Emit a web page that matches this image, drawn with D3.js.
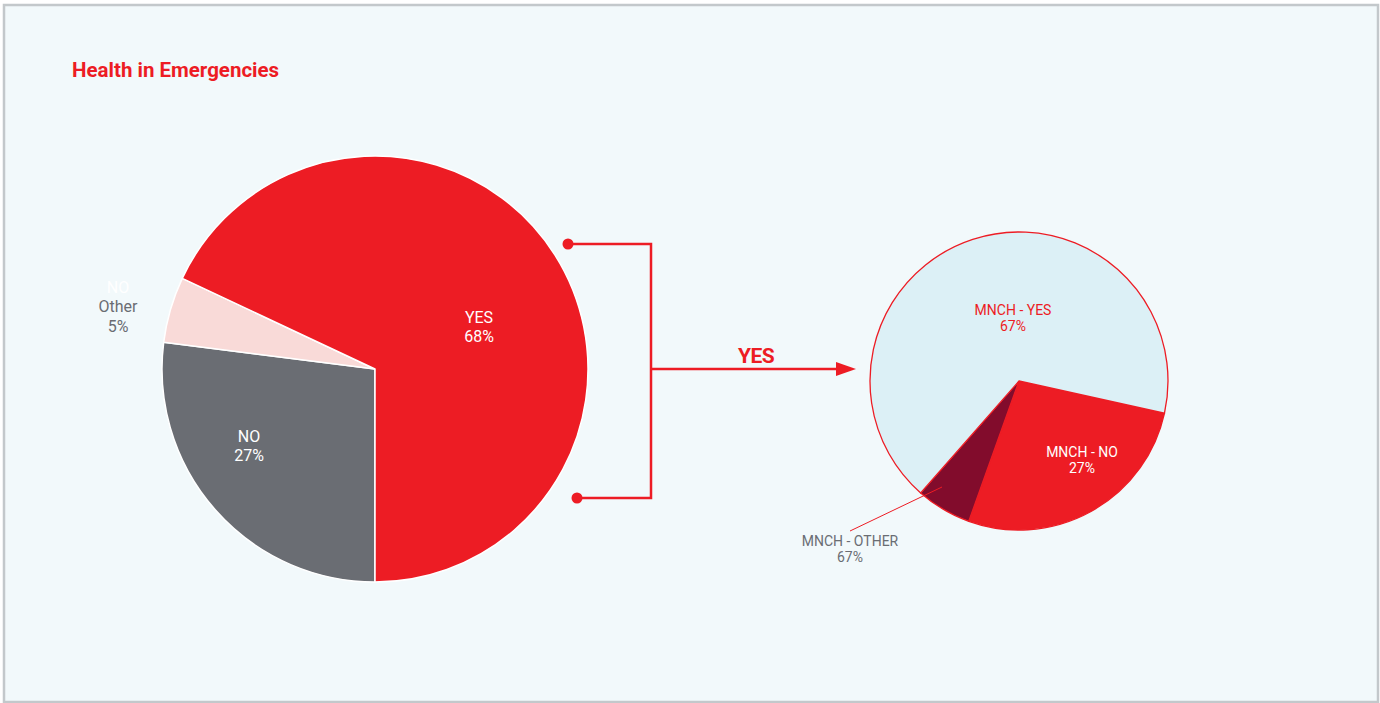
<!DOCTYPE html>
<html>
<head>
<meta charset="utf-8">
<script src="https://cdn.jsdelivr.net/npm/d3@7"></script>
<style>
  html, body { margin: 0; padding: 0; background: #ffffff; }
  svg { display: block; }
  text { font-family: Roboto, "Noto Sans", sans-serif; }
</style>
</head>
<body>
<svg id="chart" width="1380" height="703"></svg>
<script>
// Main question: share of answers
const mainCategories = ["NO", "Other", "YES"];
const mainValues = [27, 5, 68];
const mainColors = ["#6a6d73", "#f9dad8", "#ed1c24"];

// Breakdown of the YES answers
const subCategories = ["MNCH - NO", "MNCH - OTHER", "MNCH - YES"];
const subValues = [27, 6, 67];
const subLabels = ["27%", "67%", "67%"];
const subColors = ["#ed1c24", "#820c2c", "#dcf0f6"];

const RED = "#ed1c24";
const svg = d3.select("#chart");

// Panel frame
svg.append("rect")
  .attr("x", 4).attr("y", 5).attr("width", 1374).attr("height", 697)
  .attr("fill", "#f2f9fb").attr("stroke", "#c3c8cb").attr("stroke-width", 2.5);

svg.append("text")
  .attr("x", 72).attr("y", 77)
  .attr("fill", RED).attr("font-size", 20.5).attr("font-weight", 700)
  .text("Health in Emergencies");

// ---- Main pie ----
const main = svg.append("g").attr("transform", "translate(375,369)");
const mainR = 213;
const mainPie = d3.pie().sort(null).startAngle(Math.PI).endAngle(3 * Math.PI);
const mainArcs = mainPie(mainValues);
const mainArc = d3.arc().innerRadius(0).outerRadius(mainR);

main.selectAll("path").data(mainArcs).join("path")
  .attr("d", mainArc)
  .attr("fill", (d, i) => mainColors[i])
  .attr("stroke", "#ffffff").attr("stroke-width", 1.5)
  .attr("stroke-linejoin", "round");

// In-slice labels for YES and NO
const labelPos = { 0: [-126, 73], 2: [104, -46] };
[0, 2].forEach(i => {
  const [x, y] = labelPos[i];
  const t = main.append("text").attr("text-anchor", "middle").attr("fill", "#ffffff").attr("font-size", 16);
  t.append("tspan").attr("x", x).attr("y", y).text(mainCategories[i]);
  t.append("tspan").attr("x", x).attr("y", y + 19).text(mainValues[i] + "%");
});

// Outside label for the small slice
const other = main.append("text").attr("text-anchor", "middle").attr("font-size", 16);
other.append("tspan").attr("x", -257).attr("y", -76).attr("fill", "#ffffff").text("NO");
other.append("tspan").attr("x", -257).attr("y", -57).attr("fill", "#6a6d73").text(mainCategories[1]);
other.append("tspan").attr("x", -257).attr("y", -37).attr("fill", "#6a6d73").text(mainValues[1] + "%");

// ---- Connector bracket and arrow ----
const conn = svg.append("g").attr("stroke", RED).attr("fill", "none").attr("stroke-width", 2.5);
conn.append("path").attr("d", "M568,244 H651 V498 H577");
conn.append("path").attr("d", "M651,369 H838");
svg.append("path").attr("d", "M836,362 L856,369 L836,376 Z").attr("fill", RED);
svg.append("circle").attr("cx", 568).attr("cy", 244).attr("r", 5.5).attr("fill", RED);
svg.append("circle").attr("cx", 577).attr("cy", 498).attr("r", 5.5).attr("fill", RED);
svg.append("text")
  .attr("x", 756).attr("y", 363).attr("text-anchor", "middle")
  .attr("fill", RED).attr("font-size", 21).attr("font-weight", 700)
  .attr("letter-spacing", -0.5)
  .text("YES");

// ---- Breakdown pie ----
const sub = svg.append("g").attr("transform", "translate(1019,381)");
const subR = 149;
const start = 102.5 * Math.PI / 180;
const subPie = d3.pie().sort(null).startAngle(start).endAngle(start + 2 * Math.PI);
const subArcs = subPie(subValues);
const subArc = d3.arc().innerRadius(0).outerRadius(subR);

sub.selectAll("path").data(subArcs).join("path")
  .attr("d", subArc)
  .attr("fill", (d, i) => subColors[i])
  .attr("stroke", RED).attr("stroke-width", 1.3)
  .attr("stroke-linejoin", "round");

// MNCH - NO (inside)
const noT = sub.append("text").attr("text-anchor", "middle").attr("fill", "#ffffff").attr("font-size", 14);
noT.append("tspan").attr("x", 63).attr("y", 76).text(subCategories[0]);
noT.append("tspan").attr("x", 63).attr("y", 92).text(subLabels[0]);

// MNCH - YES (inside)
const yesT = sub.append("text").attr("text-anchor", "middle").attr("fill", RED).attr("font-size", 14);
yesT.append("tspan").attr("x", -6).attr("y", -66).text(subCategories[2]);
yesT.append("tspan").attr("x", -6).attr("y", -50).text(subLabels[2]);

// MNCH - OTHER (outside, with leader)
sub.append("line")
  .attr("x1", -169).attr("y1", 150).attr("x2", -77).attr("y2", 106)
  .attr("stroke", RED).attr("stroke-width", 1);
const othT = sub.append("text").attr("text-anchor", "middle").attr("fill", "#6a6d73").attr("font-size", 14);
othT.append("tspan").attr("x", -169).attr("y", 165).text(subCategories[1]);
othT.append("tspan").attr("x", -169).attr("y", 181).text(subLabels[1]);
</script>
</body>
</html>
